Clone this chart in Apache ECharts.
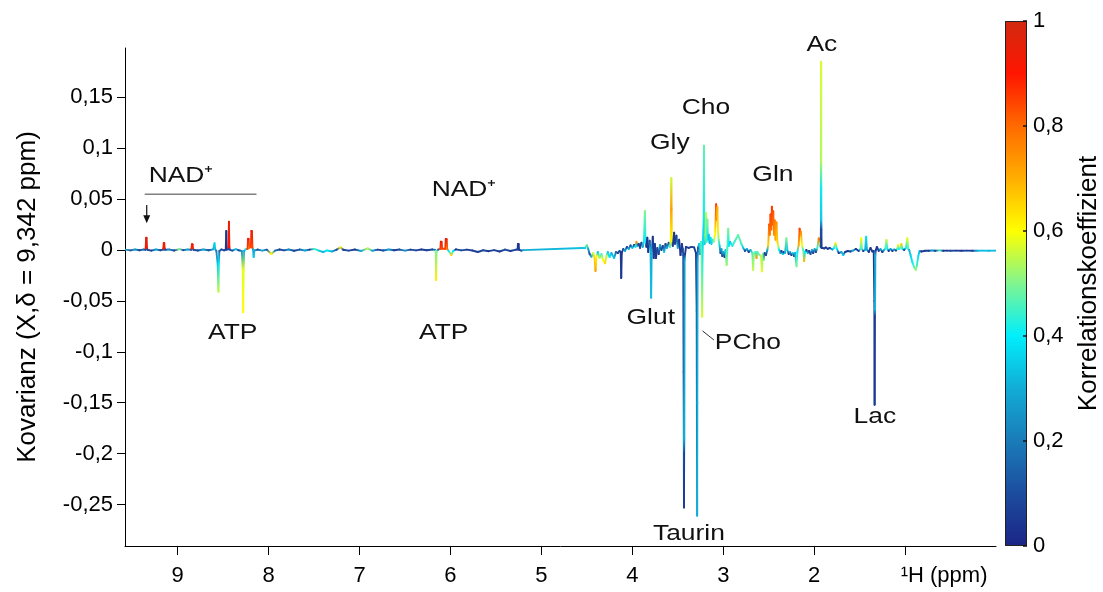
<!DOCTYPE html>
<html><head><meta charset="utf-8">
<script src="https://cdn.jsdelivr.net/npm/echarts@6/dist/echarts.min.js"></script>
<style>html,body{margin:0;padding:0;background:#fff}#c{width:1103px;height:592px}</style>
</head><body><div id="c"></div>
<script>
// Each point: [ppm, covariance, correlation coefficient]
const aromaticRegion = [
[9.58,0.0003,0.30],[9.52,-0.0004,0.12],[9.47,0.0005,0.28],[9.42,-0.0003,0.08],[9.38,0.0004,0.20],
[9.356,0.0002,0.10],[9.352,0.0020,0.92],[9.348,0.0121,0.98],[9.342,0.0118,0.98],[9.338,0.0020,0.92],[9.334,0.0002,0.10],
[9.29,-0.0006,0.06],[9.24,0.0005,0.30],[9.19,-0.0003,0.10],
[9.162,0.0003,0.12],[9.158,0.0015,0.90],[9.154,0.0069,0.95],[9.148,0.0066,0.95],[9.144,0.0015,0.90],[9.140,0.0002,0.10],
[9.09,0.0004,0.25],[9.04,-0.0005,0.08],[8.98,0.0009,0.50],[8.94,-0.0002,0.10],[8.89,0.0004,0.30],
[8.852,0.0002,0.12],[8.848,0.0015,0.88],[8.844,0.0056,0.93],[8.836,0.0054,0.93],[8.832,0.0015,0.88],[8.828,0.0002,0.12],
[8.78,-0.0005,0.08],[8.72,0.0004,0.30],[8.66,-0.0003,0.10],[8.61,0.0006,0.30],
[8.595,0.0066,0.36],[8.588,0.0008,0.32],[8.575,-0.0010,0.20],
[8.560,-0.0150,0.35],[8.552,-0.0410,0.55],[8.547,-0.0120,0.38],[8.542,-0.0010,0.15],
[8.52,0.0005,0.10],[8.49,-0.0004,0.08],
[8.472,0.0003,0.05],[8.466,0.0187,0.04],[8.461,0.0005,0.05],
[8.446,0.0006,0.10],[8.442,0.0030,0.90],[8.437,0.0278,0.95],[8.432,0.0030,0.90],[8.428,0.0004,0.10],
[8.40,-0.0006,0.12],[8.36,0.0008,0.35],[8.33,-0.0003,0.10],
[8.295,-0.0010,0.25],[8.285,-0.0200,0.58],[8.280,-0.0612,0.60],[8.275,-0.0200,0.58],[8.270,-0.0010,0.30],
[8.25,0.0008,0.40],
[8.232,0.0010,0.85],[8.226,0.0110,0.92],[8.220,0.0108,0.92],[8.214,0.0020,0.80],
[8.196,0.0030,0.85],[8.190,0.0187,0.93],[8.184,0.0185,0.93],[8.178,0.0020,0.85],
[8.172,0.0005,0.30],[8.165,-0.0070,0.35],[8.158,-0.0005,0.30],
[8.12,0.0004,0.10],[8.07,-0.0006,0.30],[8.02,0.0003,0.12],[7.97,-0.0040,0.60],[7.93,-0.0006,0.20],[7.88,0.0005,0.08]
];
const midRegion = [
[7.83,-0.0004,0.10],[7.78,0.0005,0.25],[7.72,-0.0008,0.06],[7.66,0.0004,0.15],[7.60,-0.0005,0.30],[7.55,0.0003,0.08],
[7.50,0.0010,0.45],[7.44,-0.0008,0.35],[7.40,-0.0020,0.30],[7.36,-0.0005,0.40],[7.30,-0.0015,0.30],[7.25,0.0004,0.10],
[7.21,0.0026,0.62],[7.18,0.0002,0.08],[7.12,-0.0006,0.10],[7.05,0.0004,0.05],[6.98,-0.0010,0.30],[6.91,0.0016,0.55],
[6.86,-0.0008,0.30],[6.80,0.0003,0.08],[6.74,-0.0005,0.10],[6.68,0.0005,0.30],[6.62,-0.0003,0.06],[6.56,0.0004,0.10],
[6.50,-0.0006,0.25],[6.44,0.0003,0.06],[6.38,-0.0004,0.10],[6.32,0.0005,0.05],[6.26,-0.0003,0.08],[6.20,0.0004,0.10],
[6.17,0.0001,0.20],[6.162,-0.0010,0.50],[6.158,-0.0295,0.62],[6.153,-0.0010,0.50],[6.135,0.0004,0.15],
[6.112,0.0010,0.85],[6.106,0.0082,0.93],[6.098,0.0080,0.93],[6.092,0.0012,0.85],
[6.058,0.0012,0.85],[6.052,0.0108,0.95],[6.042,0.0106,0.95],[6.036,0.0010,0.80],
[6.02,-0.0010,0.40],[5.99,-0.0050,0.65],[5.97,-0.0010,0.40],[5.94,0.0006,0.05],[5.88,-0.0004,0.10],[5.82,0.0003,0.06],
[5.76,-0.0005,0.08],[5.70,-0.0020,0.06],[5.64,-0.0003,0.10],[5.58,-0.0012,0.05],[5.52,-0.0002,0.08],[5.46,-0.0015,0.06],
[5.40,0.0004,0.10],[5.34,-0.0010,0.06],[5.28,0.0003,0.08],
[5.262,0.0005,0.06],[5.258,0.0060,0.04],[5.250,0.0058,0.04],[5.246,0.0002,0.06],
[5.22,-0.0006,0.10],[5.20,-0.0002,0.30],[4.55,0.0020,0.33]
];
const aliphaticRegionA = [
[4.52,0.0018,0.35],[4.50,0.0050,0.50],[4.485,0.0010,0.30],[4.47,-0.0040,0.10],[4.45,-0.0066,0.30],[4.43,-0.0030,0.55],
[4.415,-0.0080,0.65],[4.405,-0.0206,0.72],[4.395,-0.0060,0.60],[4.38,-0.0020,0.35],[4.36,-0.0080,0.55],[4.34,-0.0040,0.45],
[4.32,-0.0100,0.60],[4.30,-0.0130,0.64],[4.285,-0.0060,0.55],[4.27,-0.0020,0.35],[4.25,-0.0070,0.40],[4.23,-0.0030,0.30],
[4.20,-0.0080,0.35],[4.18,-0.0020,0.15],[4.16,-0.0030,0.06],[4.14,-0.0010,0.10],
[4.128,-0.0020,0.05],[4.122,-0.0275,0.05],[4.116,-0.0030,0.05],
[4.10,0.0010,0.10],[4.08,-0.0010,0.30],[4.06,0.0030,0.08],[4.04,0.0010,0.30],[4.02,0.0045,0.10],[4.00,0.0020,0.35],
[3.98,0.0050,0.06],[3.965,0.0030,0.40],[3.955,0.0080,0.72],[3.945,0.0040,0.30],[3.93,0.0060,0.06],[3.915,0.0020,0.10],
[3.90,0.0070,0.05],[3.885,0.0030,0.30],
[3.872,0.0100,0.42],[3.862,0.0383,0.50],[3.855,0.0080,0.40],
[3.845,0.0030,0.05],[3.835,0.0120,0.05],[3.825,-0.0020,0.05],[3.81,0.0090,0.08],[3.80,0.0010,0.30],
[3.793,-0.0470,0.33],[3.787,-0.0010,0.30],
[3.775,0.0130,0.05],[3.765,-0.0080,0.05],[3.752,0.0060,0.06],[3.74,-0.0080,0.05],[3.725,0.0020,0.10],[3.71,-0.0040,0.05],
[3.695,0.0050,0.30],[3.68,0.0000,0.08],[3.665,0.0040,0.05],[3.65,-0.0020,0.35],[3.635,0.0060,0.05],[3.62,0.0020,0.30],
[3.60,0.0070,0.10],[3.585,0.0030,0.45],
[3.577,0.0100,0.60],[3.574,0.0400,0.72],[3.571,0.0707,0.56],[3.568,0.0400,0.72],[3.565,0.0080,0.60],
[3.555,0.0040,0.05],[3.54,0.0170,0.05],[3.53,0.0060,0.06],[3.515,0.0140,0.05],[3.50,0.0020,0.30],[3.485,0.0100,0.05],
[3.47,-0.0050,0.05],[3.455,0.0060,0.05],[3.445,0.0010,0.08],
[3.440,-0.0050,0.10],[3.436,-0.1200,0.06],[3.434,-0.1900,0.30],[3.432,-0.2530,0.06],[3.430,-0.2000,0.07],
[3.428,-0.1850,0.30],[3.425,-0.0100,0.28],[3.420,-0.0040,0.05]
];
const aliphaticRegionB = [
[3.41,0.0030,0.05],[3.38,0.0020,0.06],[3.35,0.0030,0.05],[3.32,0.0025,0.06],[3.30,-0.0030,0.05],
[3.292,-0.0600,0.06],[3.289,-0.1900,0.08],[3.287,-0.2610,0.30],[3.285,-0.1500,0.31],[3.282,-0.0100,0.30],
[3.278,0.0020,0.10],[3.265,0.0060,0.35],[3.255,-0.0040,0.30],[3.245,0.0080,0.45],[3.238,-0.0020,0.50],
[3.234,-0.0300,0.52],[3.232,-0.0655,0.57],[3.229,-0.0200,0.45],[3.225,0.0050,0.38],
[3.215,0.0300,0.36],[3.212,0.1024,0.47],[3.209,0.0300,0.42],[3.205,0.0060,0.35],
[3.195,0.0150,0.55],[3.188,0.0360,0.55],[3.183,0.0080,0.45],[3.175,0.0300,0.50],[3.168,0.0100,0.40],
[3.16,0.0150,0.35],[3.15,0.0070,0.30],[3.14,0.0120,0.38],[3.13,0.0060,0.35],[3.12,0.0100,0.40],[3.105,0.0080,0.50],
[3.09,0.0150,0.60],[3.078,0.0449,0.85],[3.072,0.0300,0.78],[3.065,0.0420,0.70],[3.058,0.0200,0.62],[3.05,0.0100,0.50],
[3.04,0.0040,0.35],[3.03,-0.0030,0.10],[3.02,0.0010,0.30],[3.01,-0.0060,0.08],[3.00,-0.0020,0.30],[2.985,-0.0070,0.05],
[2.975,0.0000,0.35],[2.962,-0.0147,0.52],[2.955,0.0020,0.45],[2.945,0.0210,0.50],[2.938,0.0040,0.40],[2.925,0.0080,0.35],
[2.90,0.0040,0.42],[2.87,0.0090,0.45],[2.836,0.0147,0.48],[2.80,0.0060,0.45],[2.78,0.0020,0.35],[2.76,-0.0010,0.10],
[2.74,0.0010,0.30],[2.72,-0.0020,0.06],[2.70,0.0000,0.30],[2.68,-0.0030,0.45],[2.671,-0.0196,0.55],[2.662,-0.0030,0.50],
[2.645,-0.0020,0.45],[2.634,-0.0080,0.72],[2.625,-0.0020,0.45],[2.60,-0.0050,0.50],[2.585,-0.0060,0.55],[2.575,-0.0210,0.58],
[2.565,-0.0040,0.50],[2.555,-0.0100,0.50],[2.545,-0.0030,0.10],[2.53,-0.0050,0.05],[2.515,0.0000,0.30],
[2.505,0.0050,0.65],[2.495,0.0250,0.82],[2.488,0.0150,0.78],[2.48,0.0350,0.85],[2.472,0.0200,0.80],[2.465,0.0425,0.86],
[2.458,0.0250,0.82],[2.45,0.0380,0.83],[2.442,0.0150,0.75],[2.433,0.0290,0.78],[2.425,0.0100,0.70],[2.415,0.0270,0.75],
[2.405,0.0080,0.65],[2.395,0.0040,0.55],[2.385,0.0000,0.40],
[2.37,-0.0030,0.30],[2.36,-0.0010,0.05],[2.345,-0.0040,0.35],[2.335,-0.0020,0.05],[2.32,-0.0030,0.30],[2.305,0.0115,0.50],
[2.295,0.0000,0.35],[2.28,-0.0040,0.05],[2.265,-0.0020,0.30],[2.25,-0.0050,0.05],[2.235,-0.0030,0.35],[2.22,-0.0060,0.06],
[2.21,-0.0030,0.30],[2.194,-0.0160,0.50],[2.185,-0.0020,0.40],
[2.17,0.0050,0.70],[2.16,0.0210,0.85],[2.152,0.0150,0.80],[2.145,0.0180,0.75],[2.135,0.0050,0.60],[2.12,0.0000,0.45],
[2.11,-0.0110,0.68],[2.10,-0.0020,0.40],[2.085,0.0000,0.05],[2.07,-0.0030,0.30],[2.055,-0.0010,0.05],[2.04,-0.0040,0.10],
[2.025,0.0000,0.30],[2.01,-0.0030,0.05],[1.995,0.0010,0.30],[1.98,-0.0020,0.06],[1.965,0.0020,0.45],
[1.95,0.0115,0.75],[1.94,0.0100,0.80],[1.932,0.0060,0.60]
];
const aliphaticRegionC = [
[1.928,0.0030,0.10],[1.926,0.0200,0.10],[1.925,0.0300,0.32],[1.924,0.0880,0.45],[1.923,0.1850,0.57],[1.922,0.0880,0.55],
[1.9215,0.0600,0.40],[1.921,0.0300,0.35],[1.920,0.0200,0.10],[1.918,0.0020,0.05],
[1.91,0.0020,0.05],[1.89,0.0015,0.06],[1.87,0.0025,0.05],[1.85,0.0010,0.08],[1.83,0.0020,0.05],[1.80,0.0005,0.30],
[1.78,0.0020,0.40],[1.765,0.0066,0.62],[1.75,0.0010,0.40],[1.73,-0.0030,0.05],[1.70,-0.0020,0.30],[1.68,-0.0050,0.35],
[1.66,-0.0020,0.06],[1.63,-0.0010,0.05],[1.60,-0.0015,0.10],[1.57,-0.0005,0.30],[1.54,0.0010,0.05],[1.51,-0.0010,0.06],
[1.49,0.0010,0.45],[1.482,0.0115,0.60],[1.475,0.0010,0.45],[1.46,-0.0010,0.05],[1.44,0.0000,0.30],[1.428,0.0130,0.38],
[1.42,0.0005,0.30],[1.40,-0.0020,0.05],[1.38,0.0020,0.05],[1.36,-0.0015,0.06],[1.345,-0.0010,0.05],
[1.338,-0.0500,0.05],[1.335,-0.1520,0.05],[1.332,-0.0650,0.06],[1.330,-0.0580,0.32],[1.327,-0.0050,0.30],[1.322,0.0000,0.05],
[1.31,0.0030,0.05],[1.29,-0.0010,0.06],[1.27,0.0010,0.30],[1.25,-0.0020,0.05],[1.23,0.0000,0.30],[1.215,0.0020,0.45],
[1.205,0.0098,0.55],[1.195,0.0010,0.40],[1.18,-0.0010,0.05],[1.16,0.0010,0.30],[1.14,-0.0010,0.05],[1.12,0.0005,0.30],
[1.10,-0.0005,0.06],[1.085,0.0010,0.45],[1.076,0.0050,0.60],[1.065,0.0010,0.40],[1.05,0.0020,0.50],[1.04,0.0060,0.65],
[1.03,0.0010,0.40],[1.01,0.0000,0.06],[0.99,0.0020,0.40],[0.975,0.0115,0.58],[0.965,0.0010,0.45],[0.955,0.0000,0.30],
[0.94,-0.0050,0.35],[0.92,-0.0120,0.40],[0.90,-0.0170,0.48],[0.882,-0.0196,0.52],[0.87,-0.0150,0.45],[0.855,-0.0060,0.38],
[0.84,-0.0010,0.30],[0.82,-0.0015,0.05],[0.78,-0.0008,0.06],[0.74,-0.0007,0.05],[0.70,-0.0005,0.30],[0.67,-0.0007,0.05],
[0.62,-0.0004,0.45],[0.58,-0.0007,0.06],[0.54,-0.0006,0.05],[0.50,-0.0007,0.10],[0.44,-0.0006,0.06],[0.38,-0.0007,0.05],
[0.32,-0.0006,0.08],[0.26,-0.0007,0.06],[0.21,-0.0007,0.30],[0.15,-0.0006,0.33],[0.08,-0.0007,0.32],[0.02,-0.0006,0.33],
[0.0,-0.0006,0.33]
];
const xTicks = [9, 8, 7, 6, 5, 4, 3, 2, 1];
const yTicks = [-0.25, -0.2, -0.15, -0.1, -0.05, 0, 0.05, 0.1, 0.15];
const colorbarTicks = [0, 0.2, 0.4, 0.6, 0.8, 1];
const jetColors = ['#1b2585','#1c4c9e','#1a7bb8','#12acd6','#00eefc','#80f590','#ffff00','#ffae00','#ff6a00','#ff1500','#d02a10'];
const annotations = [
  {text:'NAD\u207A', ppm:8.967, cov:0.0727},
  {text:'ATP', ppm:8.395, cov:-0.0815},
  {text:'NAD\u207A', ppm:5.854, cov:0.0589},
  {text:'ATP', ppm:6.074, cov:-0.0815},
  {text:'Gly', ppm:3.587, cov:0.105},
  {text:'Cho', ppm:3.191, cov:0.1394},
  {text:'Gln', ppm:2.454, cov:0.0736},
  {text:'Ac', ppm:1.915, cov:0.2013},
  {text:'Glut', ppm:3.797, cov:-0.0668},
  {text:'PCho', ppm:2.73, cov:-0.0913},
  {text:'Taurin', ppm:3.378, cov:-0.279},
  {text:'Lac', ppm:1.332, cov:-0.164}
];

const spectrum = [].concat(aromaticRegion, midRegion, aliphaticRegionA, aliphaticRegionB, aliphaticRegionC);
const FONT = '"Liberation Sans", Arial, sans-serif';
const fmt = v => v === 0 ? '0' : String(v).replace('.', ',');

const chart = echarts.init(document.getElementById('c'), null, {renderer: 'canvas'});
const option = {
  animation: false,
  backgroundColor: '#fff',
  textStyle: {fontFamily: FONT},
  grid: [
    {left: 125, right: 107, top: 48, bottom: 46},
    {left: 1005, width: 22, top: 21, height: 525}
  ],
  visualMap: {
    type: 'continuous', show: false, seriesIndex: 0, dimension: 2, min: 0, max: 1,
    inRange: {color: jetColors}
  },
  xAxis: [{
    type: 'value', gridIndex: 0, inverse: true, min: 0, max: 9.58, position: 'bottom',
    axisLine: {onZero: false, lineStyle: {color: '#000', width: 1}},
    axisTick: {length: 9, lineStyle: {color: '#000'}, customValues: xTicks},
    axisLabel: {
      customValues: xTicks, fontSize: 22, color: '#000', margin: 19, fontFamily: FONT,
      formatter: v => v === 1 ? '{u|\u00B9H (ppm)}' : String(v),
      rich: {u: {fontSize: 22, color: '#000', fontFamily: FONT, padding: [0, 0, 0, 78]}}
    },
    splitLine: {show: false}
  }, {
    type: 'category', gridIndex: 1, data: [''], show: false
  }],
  yAxis: [{
    type: 'value', gridIndex: 0, min: -0.2908, max: 0.1984, position: 'left',
    name: 'Kovarianz (X,\u03B4 = 9,342 ppm)', nameLocation: 'middle', nameGap: 84, nameRotate: 90,
    nameTextStyle: {fontSize: 26, color: '#000', fontFamily: FONT},
    axisLine: {show: true, onZero: false, lineStyle: {color: '#000', width: 1}},
    axisTick: {show: true, length: 8, lineStyle: {color: '#000'}, customValues: yTicks},
    axisLabel: {customValues: yTicks, fontSize: 22, color: '#000', margin: 12, fontFamily: FONT, formatter: fmt},
    splitLine: {show: false}
  }, {
    type: 'value', gridIndex: 1, min: 0, max: 1, position: 'right', z: 10,
    name: 'Korrelationskoeffizient', nameLocation: 'middle', nameGap: 49, nameRotate: 90,
    nameTextStyle: {fontSize: 26, color: '#000', fontFamily: FONT},
    axisLine: {show: false, onZero: false},
    axisTick: {show: true, inside: true, length: 4, lineStyle: {color: '#111', width: 1.5}, customValues: colorbarTicks},
    axisLabel: {customValues: colorbarTicks, fontSize: 22, color: '#000', margin: 6, fontFamily: FONT, formatter: fmt},
    splitLine: {show: false}
  }],
  series: [{
    type: 'custom', xAxisIndex: 0, yAxisIndex: 0,
    dimensions: ['ppm', 'cov', 'corr'], encode: {x: 0, y: 1},
    data: spectrum, clip: true, silent: true,
    renderItem: function (params, api) {
      const i = params.dataIndexInside;
      if (i >= params.dataInsideLength - 1) return null;
      const p1 = api.coord([api.value(0), api.value(1)]);
      const p2 = api.coord([api.value(0, i + 1), api.value(1, i + 1)]);
      const c1 = api.visual('color');
      const c2 = api.visual('color', i + 1);
      const dx = p2[0] - p1[0], dy = p2[1] - p1[1];
      const stroke = (Math.abs(dx) + Math.abs(dy) < 0.05) ? c1 : {
        type: 'linear', x: p1[0], y: p1[1], x2: p2[0], y2: p2[1], global: true,
        colorStops: [{offset: 0, color: c1}, {offset: 1, color: c2}]
      };
      return {type: 'line', shape: {x1: p1[0], y1: p1[1], x2: p2[0], y2: p2[1]},
        style: {stroke: stroke, lineWidth: 1.9, lineCap: 'round'}};
    }
  }, {
    type: 'bar', xAxisIndex: 1, yAxisIndex: 1, data: [1], barWidth: '100%', silent: true,
    itemStyle: {
      color: new echarts.graphic.LinearGradient(0, 1, 0, 0,
        jetColors.map((c, k) => ({offset: k / (jetColors.length - 1), color: c}))),
      borderColor: '#222', borderWidth: 1
    }
  }]
};
chart.setOption(option);

const toPx = (x, y) => chart.convertToPixel({xAxisIndex: 0, yAxisIndex: 0}, [x, y]);
const g = [];
annotations.forEach(a => {
  const p = toPx(a.ppm, a.cov);
  g.push({type: 'text', x: p[0], y: p[1], scaleX: 1.2, z: 100, silent: true,
    style: {text: a.text, fontSize: 22, fontFamily: FONT, fill: '#111', align: 'center', verticalAlign: 'middle'}});
});
const b1 = toPx(9.363, 0.0547), b2 = toPx(8.134, 0.0547);
g.push({type: 'line', z: 100, silent: true, shape: {x1: b1[0], y1: b1[1], x2: b2[0], y2: b2[1]}, style: {stroke: '#7f7f7f', lineWidth: 1.5}});
const a1 = toPx(9.341, 0.0442), a2 = toPx(9.341, 0.0262);
g.push({type: 'line', z: 100, silent: true, shape: {x1: a1[0], y1: a1[1], x2: a2[0], y2: a2[1] - 4}, style: {stroke: '#111', lineWidth: 1.2}});
g.push({type: 'polygon', z: 100, silent: true, shape: {points: [[a2[0] - 3.5, a2[1] - 8], [a2[0] + 3.5, a2[1] - 8], [a2[0], a2[1]]]}, style: {fill: '#111'}});
const q1 = toPx(3.228, -0.0795), q2 = toPx(3.103, -0.0884);
g.push({type: 'line', z: 100, silent: true, shape: {x1: q1[0], y1: q1[1], x2: q2[0], y2: q2[1]}, style: {stroke: '#333', lineWidth: 1}});
chart.setOption({graphic: g});
</script>
</body></html>
